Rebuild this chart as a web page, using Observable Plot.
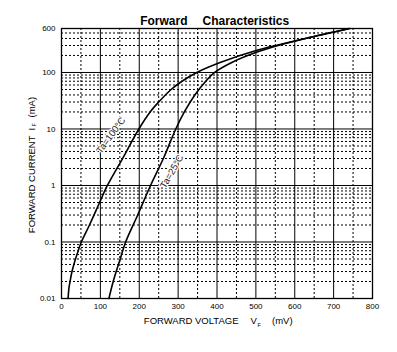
<!DOCTYPE html>
<html><head><meta charset="utf-8">
<script src="https://cdn.jsdelivr.net/npm/d3@7"></script>
<script src="https://cdn.jsdelivr.net/npm/@observablehq/plot@0.6"></script>
<style>body{margin:0;background:#fff}</style>
</head><body><div id="chart"></div><script>
// Tick values
const xMajorTicks = [0, 100, 200, 300, 400, 500, 600, 700, 800];
const xMinorTicks = [50, 150, 250, 350, 450, 550, 650, 750];
const yTickLabels = [0.01, 0.1, 1, 10, 100, 600];
const yMajorTicks = [0.01, 0.1, 1, 10, 100];
const yMinorMultipliers = [2, 3, 4, 5, 6, 7, 8, 9];
const yMinorTicks = yMajorTicks.flatMap(d => yMinorMultipliers.map(k => +(d * k).toPrecision(3))).filter(v => v < 600);

// Series: Ta = 100 °C  (forward voltage mV, forward current mA)
const voltage100 = [17, 19, 22, 27, 36, 43, 51, 72, 98, 118, 157, 199, 228, 250, 282, 310, 348, 408, 505, 600, 742];
const current100 = [0.01, 0.015, 0.02, 0.03, 0.05, 0.07, 0.1, 0.2, 0.5, 1, 3, 10, 20, 30, 50, 70, 100, 150, 250, 360, 600];
// Series: Ta = 25 °C
const voltage25 = [122, 133, 151, 165, 196, 229, 262, 294, 316, 343, 371, 394, 438, 496, 557, 627, 740];
const current25 = [0.01, 0.02, 0.05, 0.1, 0.3, 1, 3, 10, 20, 40, 70, 100, 150, 220, 300, 400, 600];

// Curve labels (anchor in data space)
const seriesNames = ["Ta=100°C", "Ta=25°C"];
const labelVoltage = [127, 284];
const labelCurrent = [7.7, 1.77];

const series100 = voltage100.map((v, i) => ({v, i: current100[i]}));
const series25 = voltage25.map((v, i) => ({v, i: current25[i]}));
const lab100 = [{v: labelVoltage[0], i: labelCurrent[0], t: seriesNames[0]}];
const lab25 = [{v: labelVoltage[1], i: labelCurrent[1], t: seriesNames[1]}];

const font = "'Liberation Sans', Arial, Helvetica, sans-serif";
const dotted = {stroke: "#000", strokeWidth: 1, strokeDasharray: "2,2"};
const solid = {stroke: "#000", strokeWidth: 1};

const chart = Plot.plot({
  width: 397, height: 352,
  marginTop: 28, marginRight: 25, marginBottom: 54, marginLeft: 61,
  style: {fontFamily: font, fontSize: "8px", color: "#000", background: "#fff", overflow: "visible"},
  x: {domain: [0, 800], ticks: xMajorTicks, tickSize: 0, tickPadding: 5, label: null},
  y: {type: "log", domain: [0.01, 600], axis: null},
  marks: [
    Plot.ruleX(xMinorTicks, dotted),
    Plot.ruleY(yMinorTicks, dotted),
    Plot.ruleX(xMajorTicks, solid),
    Plot.ruleY(yMajorTicks, solid),
    Plot.frame({stroke: "#000", strokeWidth: 1.3}),
    // Y tick labels
    Plot.text(yTickLabels, {y: d => d, text: d => String(d), frameAnchor: "left", textAnchor: "end", dx: -6, fontSize: 8}),
    Plot.line(series100, {x: "v", y: "i", curve: "catmull-rom", stroke: "#000", strokeWidth: 1.6}),
    Plot.line(series25, {x: "v", y: "i", curve: "catmull-rom", stroke: "#000", strokeWidth: 1.6}),
    Plot.text(lab100, {x: "v", y: "i", text: "t", rotate: -54, fontSize: 9.5, fill: "#222", stroke: "#fff", strokeWidth: 2.5, paintOrder: "stroke"}),
    Plot.text(lab25, {x: "v", y: "i", text: "t", rotate: -60, fontSize: 9.5, fill: "#222", stroke: "#fff", strokeWidth: 2.5, paintOrder: "stroke"}),
    // Title
    Plot.text(["Forward"], {text: d => d, frameAnchor: "top", dx: -29.5, dy: -12, textAnchor: "end", fontWeight: "bold", fontSize: 12}),
    Plot.text(["Characteristics"], {text: d => d, frameAnchor: "top", dx: -14.5, dy: -12, textAnchor: "start", fontWeight: "bold", fontSize: 12}),
    // X axis label
    Plot.text(["FORWARD VOLTAGE"], {text: d => d, frameAnchor: "bottom", dx: 21.5, dy: 25, textAnchor: "end", fontSize: 9.5}),
    Plot.text(["V"], {text: d => d, frameAnchor: "bottom", dx: 33.5, dy: 25, textAnchor: "start", fontSize: 9.5}),
    Plot.text(["F"], {text: d => d, frameAnchor: "bottom", dx: 40.5, dy: 28, textAnchor: "start", fontSize: 5.5}),
    Plot.text(["(mV)"], {text: d => d, frameAnchor: "bottom", dx: 55, dy: 25, textAnchor: "start", fontSize: 9.5}),
    // Y axis label
    Plot.text(["FORWARD CURRENT"], {text: d => d, frameAnchor: "left", rotate: -90, dx: -30, dy: -28, textAnchor: "end", fontSize: 9.5}),
    Plot.text(["I"], {text: d => d, frameAnchor: "left", rotate: -90, dx: -30, dy: -33, textAnchor: "start", fontSize: 9.5}),
    Plot.text(["F"], {text: d => d, frameAnchor: "left", rotate: -90, dx: -27, dy: -37, textAnchor: "start", fontSize: 5.5}),
    Plot.text(["(mA)"], {text: d => d, frameAnchor: "left", rotate: -90, dx: -30, dy: -46, textAnchor: "start", fontSize: 9.5})
  ]
});
document.getElementById("chart").appendChild(chart);
</script></body></html>
